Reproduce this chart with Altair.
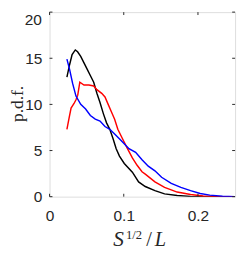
import altair as alt
import pandas as pd

# Data
black_x = [0.0234, 0.027, 0.0304, 0.0347, 0.0378, 0.042, 0.0464, 0.0508, 0.0551, 0.0595,
           0.0638, 0.068, 0.0725, 0.0768, 0.0812, 0.0855, 0.0898, 0.0942, 0.1007, 0.1116,
           0.120, 0.129, 0.142, 0.155, 0.172, 0.19, 0.21, 0.25]
black_y = [12.96, 14.3, 15.4, 15.9, 15.7, 15.2, 14.5, 13.8, 13.1, 12.4,
           11.2, 10.2, 9.0, 8.0, 7.3, 6.3, 5.2, 4.4, 3.6, 2.65,
           1.6, 1.1, 0.65, 0.3, 0.13, 0.03, 0.0, 0.0]

red_x = [0.0234, 0.0265, 0.029, 0.033, 0.0356, 0.038, 0.0408, 0.0464, 0.053, 0.0595,
         0.0638, 0.0703, 0.0747, 0.079, 0.0833, 0.0877, 0.092, 0.0985, 0.105, 0.1116,
         0.118, 0.1246, 0.129, 0.142, 0.155, 0.172, 0.19, 0.207, 0.225, 0.25]
red_y = [7.3, 8.6, 9.6, 10.1, 10.5, 11.0, 12.4, 12.1, 12.1, 12.0,
         11.6, 11.2, 10.8, 10.0, 9.2, 8.4, 7.3, 6.25, 5.2, 4.2,
         3.4, 2.7, 2.45, 1.6, 1.0, 0.5, 0.24, 0.07, 0.02, 0.0]

blue_x = [0.0234, 0.027, 0.031, 0.0356, 0.042, 0.0486, 0.055, 0.0616, 0.068, 0.0747,
          0.0812, 0.0877, 0.0964, 0.107, 0.116, 0.1246, 0.133, 0.142, 0.151, 0.164,
          0.177, 0.19, 0.203, 0.216, 0.233, 0.25]
blue_y = [14.9, 13.8, 12.3, 10.9, 10.0, 9.5, 8.8, 8.4, 8.2, 7.6,
          7.3, 6.8, 6.1, 5.2, 4.8, 4.0, 3.3, 2.8, 2.1, 1.44,
          1.0, 0.65, 0.34, 0.17, 0.04, 0.0]

x_ticks = [0, 0.1, 0.2]
y_ticks = [0, 5, 10, 15, 20]
y_axis_labels = [0, 5, 10, 15]   # drawn by the axis
y_top_label = [20]               # drawn separately so it is not cut at the page top

W, H = 192, 191
AX = "#262626"

rows = []
for name, xs_, ys_ in [("black", black_x, black_y), ("red", red_x, red_y), ("blue", blue_x, blue_y)]:
    for i, (a, b) in enumerate(zip(xs_, ys_)):
        rows.append({"s": name, "x": a, "y": b, "i": i})
df = pd.DataFrame(rows)

xs = alt.Scale(domain=[0, 0.25], nice=False, zero=False)
ys = alt.Scale(domain=[0, 20], nice=False, zero=False)

xaxis = alt.Axis(values=x_ticks, ticks=False, domain=False, grid=False, title=None,
                 labelFont="Liberation Sans", labelFontSize=16, labelColor=AX,
                 labelPadding=12, format="~g", labelFlush=False)
yaxis = alt.Axis(values=y_axis_labels, ticks=False, domain=False, grid=False, title=None,
                 labelFont="Liberation Sans", labelFontSize=16, labelColor=AX,
                 labelPadding=8, format="~g")

lines = alt.Chart(df).mark_line(strokeWidth=1.5, clip=True).encode(
    x=alt.X("x:Q", scale=xs, axis=xaxis),
    y=alt.Y("y:Q", scale=ys, axis=yaxis),
    color=alt.Color("s:N", scale=alt.Scale(domain=["black", "red", "blue"],
                                           range=["#000000", "#ff0000", "#0000ff"]), legend=None),
    order="i:Q",
    detail="s:N",
)

xt = pd.DataFrame({"v": x_ticks})
yt = pd.DataFrame({"v": y_ticks})
tick_style = dict(color=AX, strokeWidth=1)
xb = alt.Chart(xt).mark_rule(**tick_style).encode(x=alt.X("v:Q", scale=xs), y=alt.value(H), y2=alt.value(H - 3))
xtp = alt.Chart(xt).mark_rule(**tick_style).encode(x=alt.X("v:Q", scale=xs), y=alt.value(0), y2=alt.value(3))
yl = alt.Chart(yt).mark_rule(**tick_style).encode(y=alt.Y("v:Q", scale=ys), x=alt.value(0), x2=alt.value(3))
yr = alt.Chart(yt).mark_rule(**tick_style).encode(y=alt.Y("v:Q", scale=ys), x=alt.value(W), x2=alt.value(W - 3))

top_lab = alt.Chart(pd.DataFrame({"v": y_top_label})).mark_text(
    font="Liberation Sans", fontSize=16, color=AX, align="right", baseline="top", dx=-8, dy=0
).encode(y=alt.Y("v:Q", scale=ys), x=alt.value(0), text=alt.Text("v:Q", format="~g"))

one = alt.Data(values=[{"a": 1}])

def txt(t, x, y, size, italic=False, font="Liberation Serif", angle=0, align="left"):
    kw = dict(text=t, font=font, fontSize=size, color=AX, align=align, baseline="alphabetic")
    if italic:
        kw["fontStyle"] = "italic"
    if angle:
        kw["angle"] = angle
    return alt.Chart(one).mark_text(**kw).encode(x=alt.value(x), y=alt.value(y))

labels = [
    txt("S", 66, 242, 22, italic=True),
    txt("1/2", 79, 235, 13),
    txt("/", 100, 242, 21),
    txt("L", 109, 242, 21, italic=True),
    txt("p.d.f.", -27, 95, 18, angle=270, align="center"),
]

chart = alt.layer(lines, xb, xtp, yl, yr, top_lab, *labels).properties(
    width=W, height=H,
    autosize=alt.AutoSizeParams(type="none"),
    padding={"left": 43, "top": 0, "right": 2, "bottom": 53},
).configure_view(stroke=AX, strokeWidth=1).configure(background="white")

chart.save("out.html", embed_options={"renderer": "svg", "actions": False})
